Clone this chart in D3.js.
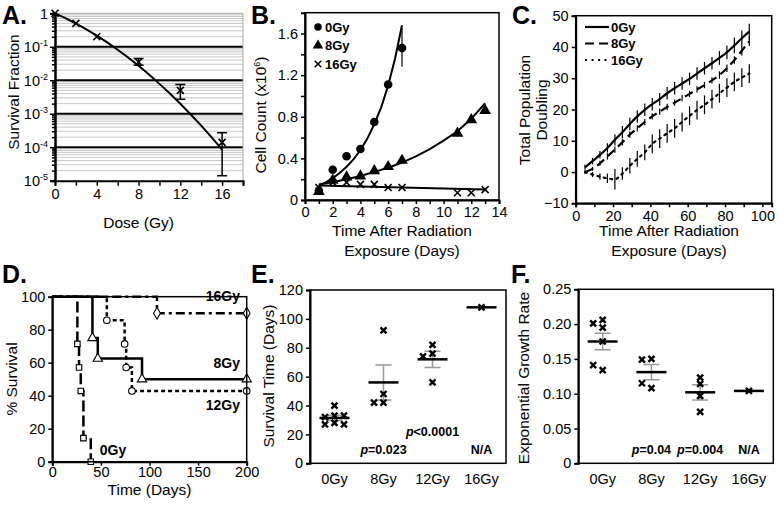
<!DOCTYPE html>
<html>
<head>
<meta charset="utf-8">
<script src="https://d3js.org/d3.v7.min.js"></script>
<style>
body { margin:0; background:#fff; }
text { font-family:"Liberation Sans", Arial, sans-serif; fill:#000; }
</style>
</head>
<body>
<script>
// ---------- data ----------
// A. clonogenic survival
const doseA = [0, 2, 4, 8, 12, 16];
const survA = [1, 0.5, 0.2, 0.035, 0.005, 0.00014];
const survLoA = [null, null, null, 0.028, 0.0027, 0.000014];
const survHiA = [null, null, null, 0.045, 0.0075, 0.00027];
const fitDoseA = [0,1,2,3,4,5,6,7,8,9,10,11,12,13,14,15,16];
const fitSurvA = [1,0.716,0.496,0.332,0.215,0.135,0.0815,0.0477,0.027,0.0148,0.0078,0.004,0.00198,0.00095,0.00044,0.000196,0.000085];

// B. cell counts (x10^6)
const dayB0 = [1,2,3,4,5,6,7];
const count0 = [0.09,0.29,0.42,0.49,0.75,1.11,1.46];
const dayB8 = [1,2,3,4,5,6,7,11,12,13];
const count8 = [0.08,0.19,0.22,0.23,0.28,0.32,0.38,0.64,0.77,0.86];
const dayB16 = [1,2,3,4,5,6,7,11,12,13];
const count16 = [0.12,0.17,0.17,0.15,0.15,0.12,0.12,0.07,0.07,0.10];
const fitDay0 = [1,1.5,2,2.5,3,3.5,4,4.5,5,5.5,6,6.5,7];
const fit0 = [0.14,0.17,0.21,0.26,0.32,0.39,0.48,0.59,0.73,0.89,1.1,1.36,1.68];
const fitDay8 = [1,2,3,4,5,6,7,8,9,10,11,12,13];
const fit8 = [0.15,0.17,0.2,0.23,0.27,0.31,0.36,0.42,0.49,0.57,0.66,0.78,0.93];
const fitDay16 = [1,4,7,10,13];
const fit16 = [0.14,0.13,0.12,0.11,0.10];

// C. total population doubling
const dayC = [5,9,13,17,21,25,29,33,37,41,45,49,53,57,61,65,69,73,77,81,85,89,93];
const pd0  = [1.5,3.5,5.5,7.7,10.3,12.7,15.4,17.8,19.9,21.7,23.3,25.2,26.8,28.3,29.8,31.5,33.2,34.8,36.5,38.3,40.5,42.8,44.9];
const pd8  = [0,1,2.8,5,7.2,9.5,12,14,16,17.8,19.3,20.8,22.2,23.6,25,26.4,27.8,29.3,31,33.2,35.8,38.8,41.8];
const pd16 = [0,-0.8,-1.5,-2,-2.3,-0.5,2,4.2,6.3,9,10.7,12.4,14,16,18,19.8,21.5,23.3,25.2,27,28.8,30.2,31.5];
const err0  = [0.8,1,1.2,1.5,1.8,2,2,2,2,2,2,2,2,2,2,2,2,2,2.2,2.2,2.5,2.5,2.5];
const err8  = [0.5,0.6,0.8,1,1,1,1,1,1,1,1,1,1,1,1,1,1,1,1.2,1.2,1.2,1.5,1.5];
const err16 = [0.5,0.8,1,1.5,3.3,2,2.5,2.5,2.5,3,3,3,3,3,3,3,3,3,3,3,3,3,3];

// D. Kaplan-Meier (time of drop, survival after drop)
const kmTime0 = [0,25.8,27.5,29.3,32,39.6];
const kmSurv0 = [100,71.4,57.1,42.9,14.3,0];
const kmTime8 = [0,41.3,46.8,92.3,200];
const kmSurv8 = [100,75,62.5,50,50];
const kmTime12 = [0,56.1,74.4,76,81.9,200];
const kmSurv12 = [100,85.7,71.4,57.1,42.9,42.9];
const kmTime16 = [0,107.7,200];
const kmSurv16 = [100,90,90];

// E / F
const groups = ["0Gy","8Gy","12Gy","16Gy"];
const survTimeE = [[40,33,32,33,28,27,27],[92,48,42,42],[82,76,74,56],[108]];
const meanE = [31.4,56,72,108];
const semE = [1.8,12.1,5.6,0];
const pLabelE = ["","=0.023","<0.0001","N/A"];
const growthF = [[0.195,0.206,0.201,0.175,0.134,0.141],[0.15,0.149,0.108,0.115],[0.123,0.114,0.097,0.074],[0.104]];
const meanF = [0.175,0.131,0.102,0.104];
const semF = [0.012,0.011,0.011,0];
const pLabelF = ["","=0.04","=0.004","N/A"];

// ---------- helpers ----------
const svg = d3.select("body").append("svg").attr("width",779).attr("height",506);
const FS = 14.5;

function xMark(g, x, y, s, w) {
  g.append("path").attr("d",`M${x-s},${y-s}L${x+s},${y+s}M${x-s},${y+s}L${x+s},${y-s}`)
    .attr("stroke","#000").attr("stroke-width",w).attr("fill","none");
}
function styleAxis(ax) {
  ax.selectAll("path.domain").attr("stroke","#000").attr("stroke-width",2);
  ax.selectAll(".tick line").attr("stroke","#000").attr("stroke-width",1.5);
  ax.selectAll(".tick text").attr("font-size",FS);
}
function frame(x, y) {
  svg.append("rect").attr("x",x.range()[0]).attr("y",y.range()[1])
    .attr("width",x.range()[1]-x.range()[0]).attr("height",y.range()[0]-y.range()[1])
    .attr("fill","none").attr("stroke","#000").attr("stroke-width",1.5);
}
function yTitle(lines, cx, cy) {
  const t = svg.append("text").attr("transform",`translate(${cx},${cy}) rotate(-90)`)
    .attr("text-anchor","middle").attr("font-size",15.5);
  lines.forEach((l,i) => t.append("tspan").attr("x",0).attr("dy", i===0 ? (0.35-(lines.length-1)*0.55)+"em" : "1.1em").text(l));
  return t;
}
function xTitle(lines, cx, y) {
  const t = svg.append("text").attr("text-anchor","middle").attr("font-size",15.5);
  lines.forEach((l,i) => t.append("tspan").attr("x",cx).attr("y",y+i*20).text(l));
}
function panelLabel(txt, x, y) {
  svg.append("text").attr("x",x).attr("y",y).attr("font-size",25).attr("font-weight","bold").text(txt);
}

// ---------- A ----------
const xA = d3.scaleLinear([0,18],[55,243]);
const yA = d3.scaleLog([1e-5,1],[180.7,13.3]);
const gA = svg.append("g");
for (let e=-5; e<0; e++) for (let k=2; k<10; k++) {
  gA.append("line").attr("x1",xA(0)).attr("x2",xA(18)).attr("y1",yA(k*Math.pow(10,e))).attr("y2",yA(k*Math.pow(10,e)))
    .attr("stroke","#c8c8c8").attr("stroke-width",1);
}
[1e-4,1e-3,1e-2,1e-1].forEach(v => gA.append("line").attr("x1",xA(0)).attr("x2",xA(18))
  .attr("y1",yA(v)).attr("y2",yA(v)).attr("stroke","#000").attr("stroke-width",2));
gA.append("line").attr("x1",xA(0)).attr("x2",xA(18)).attr("y1",yA(1)).attr("y2",yA(1)).attr("stroke","#aaa");
gA.append("line").attr("x1",xA(18)).attr("x2",xA(18)).attr("y1",yA(1)).attr("y2",yA(1e-5)).attr("stroke","#aaa");
const minorA = [];
for (let e=-5; e<0; e++) for (let k=2; k<10; k++) minorA.push(k*Math.pow(10,e));
const axYAminor = gA.append("g").attr("transform",`translate(${xA(0)},0)`)
  .call(d3.axisLeft(yA).tickValues(minorA).tickSize(3).tickFormat(""));
styleAxis(axYAminor);
const axYA = gA.append("g").attr("transform",`translate(${xA(0)},0)`)
  .call(d3.axisLeft(yA).tickValues([1e-5,1e-4,1e-3,1e-2,1e-1,1]).tickSize(5).tickFormat(""));
styleAxis(axYA);
axYA.selectAll(".tick").each(function(d) {
  const e = Math.round(Math.log10(d));
  const t = d3.select(this).append("text").attr("x",-7).attr("dy","0.35em").attr("text-anchor","end").attr("font-size",FS);
  if (e === 0) t.text("1");
  else { t.append("tspan").text("10"); t.append("tspan").attr("font-size",9).attr("dy",-6).text(e); }
});
const axXA = gA.append("g").attr("transform",`translate(0,${yA(1e-5)})`)
  .call(d3.axisBottom(xA).tickValues(d3.range(0,19,2)).tickSize(5).tickFormat(d => d%4===0 && d<=16 ? d : ""));
styleAxis(axXA);
gA.append("path").datum(fitDoseA.map((d,i)=>[d,fitSurvA[i]]))
  .attr("d", d3.line().x(d=>xA(d[0])).y(d=>yA(d[1])))
  .attr("fill","none").attr("stroke","#000").attr("stroke-width",2);
doseA.forEach((d,i) => {
  if (survLoA[i] !== null) {
    const x = xA(d);
    gA.append("path").attr("d",`M${x},${yA(survLoA[i])}V${yA(survHiA[i])}M${x-5},${yA(survLoA[i])}H${x+5}M${x-5},${yA(survHiA[i])}H${x+5}`)
      .attr("stroke","#000").attr("stroke-width",1.5).attr("fill","none");
  }
  xMark(gA, xA(d), yA(survA[i]), 3.5, 1.6);
});
yTitle(["Survival Fraction"], 14, 92);
xTitle(["Dose (Gy)"], xA(8), 228);
panelLabel("A.", 2, 24);

// ---------- B ----------
const xB = d3.scaleLinear([0,14],[305,499]);
const yB = d3.scaleLinear([0,1.8],[200,12.7]);
const gB = svg.append("g");
frame(xB, yB);
const axXB = gB.append("g").attr("transform",`translate(0,${yB(0)})`)
  .call(d3.axisBottom(xB).tickValues(d3.range(0,15,1)).tickSize(4).tickFormat(d => d%2===0 ? d : ""));
styleAxis(axXB);
const axYB = gB.append("g").attr("transform",`translate(${xB(0)},0)`)
  .call(d3.axisLeft(yB).tickValues([0,0.2,0.4,0.6,0.8,1,1.2,1.4,1.6]).tickSize(4)
  .tickFormat(d => Math.round(d*10)%4===0 ? (d===0 ? "0" : d3.format(".1f")(d)) : ""));
styleAxis(axYB);
const lineB = d3.line().x(d=>xB(d[0])).y(d=>yB(d[1]));
[[fitDay0,fit0],[fitDay8,fit8],[fitDay16,fit16]].forEach(([xs,ys]) => {
  gB.append("path").datum(xs.map((d,i)=>[d,ys[i]])).attr("d",lineB)
    .attr("fill","none").attr("stroke","#000").attr("stroke-width",2);
});
gB.append("path").attr("d",`M${xB(7)},${yB(1.28)}V${yB(1.65)}`).attr("stroke","#000").attr("stroke-width",1.2);
dayB16.forEach((d,i) => xMark(gB, xB(d), yB(count16[i]), 3.5, 1.6));
dayB8.forEach((d,i) => gB.append("path").attr("d",d3.symbol(d3.symbolTriangle,60)())
  .attr("transform",`translate(${xB(d)},${yB(count8[i])})`).attr("fill","#000"));
dayB0.forEach((d,i) => gB.append("circle").attr("cx",xB(d)).attr("cy",yB(count0[i])).attr("r",4.3).attr("fill","#000"));
// legend
const legB = [["0Gy","c"],["8Gy","t"],["16Gy","x"]];
legB.forEach(([lab,m],i) => {
  const y = 27 + i*18.5;
  if (m==="c") gB.append("circle").attr("cx",318).attr("cy",y).attr("r",3.8).attr("fill","#000");
  else if (m==="t") gB.append("path").attr("d",d3.symbol(d3.symbolTriangle,48)()).attr("transform",`translate(318,${y})`);
  else xMark(gB, 318, y, 3.3, 1.5);
  gB.append("text").attr("x",325).attr("y",y).attr("dy","0.35em").attr("font-size",13).attr("font-weight","bold").text(lab);
});
const tB = yTitle([""], 261, 115);
tB.select("tspan").text("Cell Count (x10");
tB.append("tspan").attr("font-size",9).attr("dy",-6).text("6");
tB.append("tspan").attr("dy",6).text(")");
xTitle(["Time After Radiation","Exposure (Days)"], xB(7), 236);
panelLabel("B.", 251, 24);

// ---------- C ----------
const xC = d3.scaleLinear([0,105],[575.7,771.7]);
const yC = d3.scaleLinear([-10,50],[203.3,15.7]);
const gC = svg.append("g");
frame(xC, yC);
const axXC = gC.append("g").attr("transform",`translate(0,${yC(-10)})`)
  .call(d3.axisBottom(xC).tickValues(d3.range(0,101,10)).tickSize(4).tickFormat(d => d%20===0 ? d : ""));
styleAxis(axXC);
const axYC = gC.append("g").attr("transform",`translate(${xC(0)},0)`)
  .call(d3.axisLeft(yC).tickValues(d3.range(-10,51,10)).tickSize(4));
styleAxis(axYC);
const seriesC = [[pd0,err0,null],[pd8,err8,"9,5"],[pd16,err16,"2,4.5"]];
seriesC.forEach(([ys,es,dash]) => {
  dayC.forEach((d,i) => gC.append("line").attr("x1",xC(d)).attr("x2",xC(d))
    .attr("y1",yC(ys[i]-es[i])).attr("y2",yC(ys[i]+es[i])).attr("stroke","#000").attr("stroke-width",1.2));
  gC.append("path").datum(dayC.map((d,i)=>[d,ys[i]]))
    .attr("d", d3.line().x(d=>xC(d[0])).y(d=>yC(d[1])).curve(d3.curveMonotoneX))
    .attr("fill","none").attr("stroke","#000").attr("stroke-width",2.2)
    .attr("stroke-dasharray",dash).attr("stroke-linecap", dash && dash.startsWith("2") ? "round" : "butt");
});
[["0Gy",null],["8Gy","9,5"],["16Gy","2,4.5"]].forEach(([lab,dash],i) => {
  const y = 27 + i*16.5;
  gC.append("line").attr("x1",585).attr("x2",609).attr("y1",y).attr("y2",y)
    .attr("stroke","#000").attr("stroke-width",2.2).attr("stroke-dasharray",dash);
  gC.append("text").attr("x",611).attr("y",y).attr("dy","0.35em").attr("font-size",13).attr("font-weight","bold").text(lab);
});
yTitle(["Total Population","Doubling"], 533, 110);
xTitle(["Time After Radiation","Exposure (Days)"], xC(50), 236);
panelLabel("C.", 512, 24);

// ---------- D ----------
const xD = d3.scaleLinear([0,200],[52.3,246.7]);
const yD = d3.scaleLinear([0,100],[461.7,296.7]);
const gD = svg.append("g");
frame(xD, yD);
const axXD = gD.append("g").attr("transform",`translate(0,${yD(0)})`)
  .call(d3.axisBottom(xD).tickValues([0,50,100,150,200]).tickSize(4).tickPadding(1));
styleAxis(axXD);
const axYD = gD.append("g").attr("transform",`translate(${xD(0)},0)`)
  .call(d3.axisLeft(yD).tickValues([0,20,40,60,80,100]).tickSize(4));
styleAxis(axYD);
const kmLine = d3.line().x(d=>xD(d[0])).y(d=>yD(d[1])).curve(d3.curveStepAfter);
const kmSets = [
  {t:kmTime16, s:kmSurv16, dash:"9,4,3,4", sym:d3.symbolDiamond, size:40},
  {t:kmTime12, s:kmSurv12, dash:"4,3", sym:d3.symbolCircle, size:34},
  {t:kmTime8,  s:kmSurv8,  dash:null, sym:d3.symbolTriangle, size:38},
  {t:kmTime0,  s:kmSurv0,  dash:"11,4", sym:d3.symbolSquare, size:30}
];
kmSets.forEach(k => {
  gD.append("path").datum(k.t.map((d,i)=>[d,k.s[i]])).attr("d",kmLine)
    .attr("fill","none").attr("stroke","#000").attr("stroke-width",2.5).attr("stroke-dasharray",k.dash);
});
kmSets.forEach(k => {
  k.t.forEach((d,i) => {
    if (i===0) return;
    gD.append("path").attr("d",d3.symbol(k.sym,k.size)())
      .attr("transform",`translate(${xD(d)},${yD(k.s[i])})`)
      .attr("fill","#fff").attr("stroke","#000").attr("stroke-width",1.1);
  });
});
const labD = [["16Gy",kmSurv16[2],-12],["8Gy",kmSurv8[4],-11],["12Gy",kmSurv12[5],19]];
labD.forEach(([t,v,dy]) => gD.append("text").attr("x",240).attr("y",yD(v)+dy).attr("text-anchor","end")
  .attr("font-size",14).attr("font-weight","bold").text(t));
gD.append("text").attr("x",xD(kmTime0[5])+9).attr("y",yD(0)-7).attr("font-size",14).attr("font-weight","bold").text("0Gy");
yTitle(["% Survival"], 12, 379);
xTitle(["Time (Days)"], xD(100), 495);
panelLabel("D.", 2, 283);

// ---------- E / F ----------
function dotPanel(values, means, sems, pLabels, yDom, yRange, xRange, yTicks, yFmt) {
  const x = d3.scalePoint(groups, xRange).padding(0.5);
  const y = d3.scaleLinear(yDom, yRange);
  const g = svg.append("g");
  frame(x, y);
  const axY = g.append("g").attr("transform",`translate(${xRange[0]},0)`)
    .call(d3.axisLeft(y).tickValues(yTicks).tickSize(4).tickFormat(yFmt));
  styleAxis(axY);
  groups.forEach((gr,i) => {
    g.append("text").attr("x",x(gr)).attr("y",yRange[0]+21).attr("text-anchor","middle").attr("font-size",FS).text(gr);
    const cx = x(gr);
    if (sems[i] > 0) {
      const lo = y(means[i]-sems[i]), hi = y(means[i]+sems[i]);
      g.append("path").attr("d",`M${cx},${lo}V${hi}M${cx-8},${lo}H${cx+8}M${cx-8},${hi}H${cx+8}`)
        .attr("stroke","#999").attr("stroke-width",1.5).attr("fill","none");
    }
    // points, nudged sideways when they would overlap
    const placed = [];
    values[i].forEach(v => {
      const py = y(v);
      let off = 0;
      for (const o of [0,-9.5,9.5,-19,19]) {
        if (!placed.some(p => Math.abs(p[0]-o) < 8 && Math.abs(p[1]-py) < 6)) { off = o; break; }
      }
      placed.push([off,py]);
      xMark(g, cx+off, py, 3, 2.4);
    });
    g.append("line").attr("x1",cx-15).attr("x2",cx+15).attr("y1",y(means[i])).attr("y2",y(means[i]))
      .attr("stroke","#000").attr("stroke-width",2.5);
  });
  // p labels, lifted when they would overlap the neighbour
  let prevRight = -Infinity;
  groups.forEach((gr,i) => {
    if (!pLabels[i]) return;
    const t = g.append("text").attr("x",x(gr)).attr("y",yRange[0]-9).attr("text-anchor","middle")
      .attr("font-size",12.5).attr("font-weight","bold");
    if (pLabels[i] !== "N/A") t.append("tspan").attr("font-style","italic").text("p");
    t.append("tspan").text(pLabels[i]);
    const w = t.node().getComputedTextLength();
    if (x(gr) - w/2 < prevRight + 2) { t.attr("y", yRange[0]-27); prevRight = -Infinity; }
    else prevRight = x(gr) + w/2;
  });
  return {x,y};
}
dotPanel(survTimeE, meanE, semE, pLabelE, [0,120], [463.3,290], [310,506], d3.range(0,121,20), d3.format("d"));
yTitle(["Survival Time (Days)"], 269, 376);
panelLabel("E.", 251, 283);

dotPanel(growthF, meanF, semF, pLabelF, [0,0.25], [463.3,289.3], [578.3,773.3], [0,0.05,0.1,0.15,0.2,0.25],
  d => d===0 ? "0" : d3.format(".2f")(d));
yTitle(["Exponential Growth Rate"], 524, 378);
panelLabel("F.", 511, 283);
</script>
</body>
</html>
